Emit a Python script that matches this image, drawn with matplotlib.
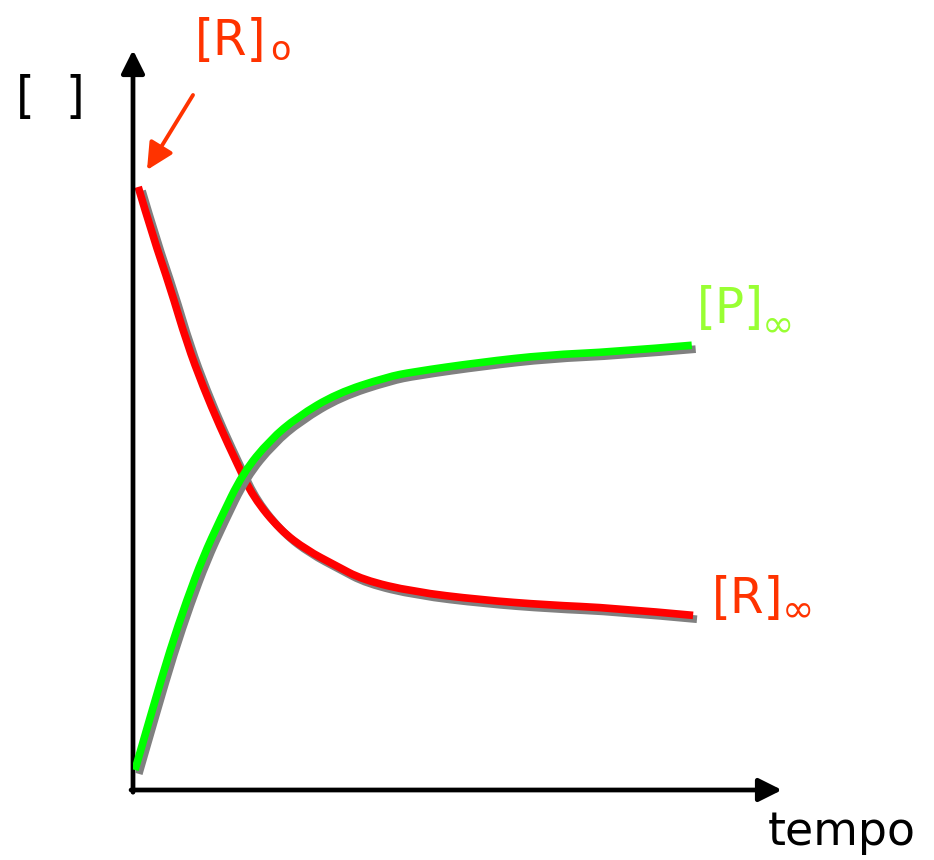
import matplotlib
matplotlib.use("Agg")
import matplotlib.pyplot as plt
import matplotlib.patheffects as pe
from matplotlib.path import Path
from matplotlib.patches import PathPatch, FancyArrowPatch

# time / concentration readings (arbitrary units)
t_R = [0.08, 0.31, 0.57, 0.83, 1.08, 1.34, 1.60, 1.85, 2.27, 2.68, 3.11, 3.54, 4.31, 5.35, 6.38, 7.40, 8.63]
c_R = [8.15, 7.47, 6.80, 6.04, 5.45, 4.91, 4.42, 3.96, 3.51, 3.24, 3.04, 2.84, 2.68, 2.57, 2.50, 2.46, 2.36]

t_P = [0.03, 0.31, 0.57, 0.83, 1.08, 1.34, 1.69, 2.11, 2.53, 3.14, 3.91, 4.31, 5.35, 6.38, 7.40, 8.61]
c_P = [0.27, 1.12, 1.89, 2.57, 3.15, 3.65, 4.28, 4.73, 5.04, 5.36, 5.58, 5.65, 5.78, 5.88, 5.92, 6.01]

W, H = 934, 860
fig = plt.figure(figsize=(W / 100, H / 100), dpi=100)
ax = fig.add_axes([133 / W, 70 / H, (782 - 133) / W, (790 - 50) / H])
ax.set_xlim(0, 10)
ax.set_ylim(0, 10)
ax.axis("off")

def px(x, y):
    return x / W, 1 - y / H

def smooth_path(xs, ys):
    # quadratic bezier through midpoints, the read points act as control points
    pts = list(zip(xs, ys))
    verts = [pts[0]]
    codes = [Path.MOVETO]
    for i in range(1, len(pts) - 1):
        mid = ((pts[i][0] + pts[i + 1][0]) / 2, (pts[i][1] + pts[i + 1][1]) / 2)
        if i == len(pts) - 2:
            mid = pts[-1]
        verts += [pts[i], mid]
        codes += [Path.CURVE3, Path.CURVE3]
    return Path(verts, codes)

shadow = [pe.SimpleLineShadow(offset=(2.8, -2.8), shadow_color="#808080", alpha=1), pe.Normal()]

for xs, ys, col, z in [(t_R, c_R, "#ff0000", 3), (t_P, c_P, "#00ff00", 4)]:
    patch = PathPatch(smooth_path(xs, ys), transform=ax.transData, facecolor="none",
                      edgecolor=col, lw=5.5, capstyle="butt", path_effects=shadow, zorder=z)
    ax.add_patch(patch)

# axes with arrow heads
arrow = dict(arrowstyle="-|>,head_length=0.7,head_width=0.35", color="black", lw=3.4,
             shrinkA=0, shrinkB=0, mutation_scale=20)
ax.annotate("", xy=(0, 1), xytext=(0, -0.003), xycoords="axes fraction", arrowprops=arrow)
ax.annotate("", xy=(1, 0), xytext=(-0.003, 0), xycoords="axes fraction", arrowprops=arrow)

red_txt = "#ff3300"
green_txt = "#99ff33"
big = 35
small = 28

fig.text(*px(195, 55), "[R]", color=red_txt, fontsize=big, va="baseline")
fig.text(*px(270, 60), "o", color=red_txt, fontsize=24, va="baseline")
fig.text(*px(16, 112), "[  ]", color="black", fontsize=big, va="baseline")
fig.text(*px(697, 323), "[P]", color=green_txt, fontsize=big, va="baseline")
fig.text(*px(762, 336), "∞", color=green_txt, fontsize=small, va="baseline")
fig.text(*px(712, 613), "[R]", color=red_txt, fontsize=big, va="baseline")
fig.text(*px(782, 621), "∞", color=red_txt, fontsize=small, va="baseline")
fig.text(*px(768, 845), "tempo", color="black", fontsize=33, va="baseline")

# pointer to [R]o
fig.add_artist(FancyArrowPatch(
    px(193, 95), px(147, 170), transform=fig.transFigure,
    arrowstyle="-|>,head_length=0.9,head_width=0.45", mutation_scale=18,
    color=red_txt, lw=2.8, shrinkA=0, shrinkB=0))

fig.savefig("out.png", dpi=100)
